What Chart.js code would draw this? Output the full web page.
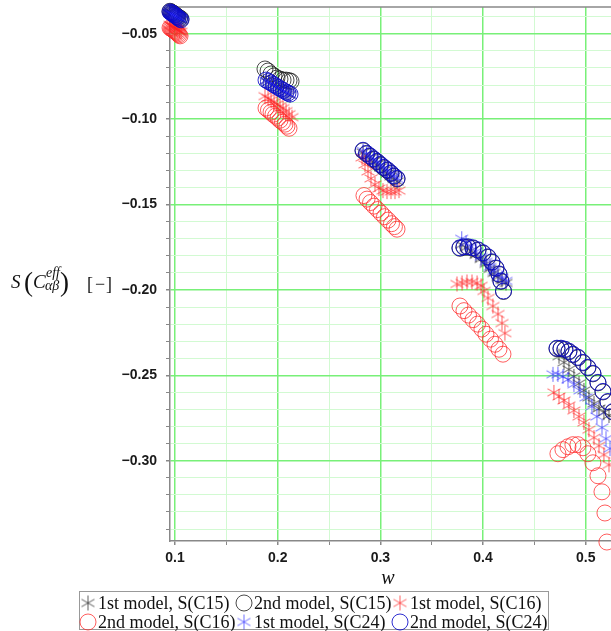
<!DOCTYPE html>
<html>
<head>
<meta charset="utf-8">
<title>S(C_eff) vs w</title>
<script src="https://cdn.jsdelivr.net/npm/chart.js@4.4.0/dist/chart.umd.min.js"></script>
<style>
  html, body { margin: 0; padding: 0; background: #fff; }
  #chart { display: block; }
</style>
</head>
<body>
<canvas id="chart" width="611" height="631"></canvas>
<script>
// Data (w, S) for each series, clusters near w = 0.1 .. 0.5

// 1st model, S(C15) - black asterisks
var wC15m1 = [0.0951, 0.0961, 0.0971, 0.0981, 0.0990, 0.1000, 0.1010, 0.1019, 0.1029, 0.1044, 0.1058,
    0.1886, 0.1910, 0.1935, 0.1959, 0.1983, 0.2008, 0.2032, 0.2056, 0.2081, 0.2100, 0.2120,
    0.2831, 0.2865, 0.2899, 0.2933, 0.2967, 0.3001, 0.3035, 0.3069, 0.3103, 0.3132, 0.3162,
    0.3792, 0.3834, 0.3882, 0.3931, 0.3980, 0.4028, 0.4067, 0.4106, 0.4145, 0.4184, 0.4223,
    0.4739, 0.4788, 0.4836, 0.4885, 0.4934, 0.4982, 0.5031, 0.5080, 0.5129, 0.5177, 0.5226];
var sC15m1 = [-0.0374, -0.0378, -0.0381, -0.0385, -0.0390, -0.0394, -0.0399, -0.0403, -0.0408, -0.0413, -0.0419,
    -0.0776, -0.0785, -0.0794, -0.0803, -0.0812, -0.0821, -0.0829, -0.0838, -0.0846, -0.0853, -0.0859,
    -0.1194, -0.1212, -0.1229, -0.1247, -0.1265, -0.1282, -0.1300, -0.1318, -0.1335, -0.1350, -0.1365,
    -0.1735, -0.1753, -0.1771, -0.1794, -0.1818, -0.1847, -0.1876, -0.1900, -0.1924, -0.1941, -0.1959,
    -0.2388, -0.2424, -0.2465, -0.2506, -0.2547, -0.2588, -0.2629, -0.2665, -0.2694, -0.2718, -0.2735];

// 2nd model, S(C15) - black circles
var wC15m2 = [0.0951, 0.0961, 0.0971, 0.0981, 0.0990, 0.1000, 0.1010, 0.1019, 0.1029, 0.1044, 0.1058,
    0.1876, 0.1906, 0.1935, 0.1964, 0.1993, 0.2022, 0.2052, 0.2081, 0.2110, 0.2130,
    0.2831, 0.2865, 0.2899, 0.2933, 0.2967, 0.3001, 0.3035, 0.3069, 0.3103, 0.3132, 0.3162,
    0.3775, 0.3814, 0.3853, 0.3902, 0.3951, 0.3999, 0.4048, 0.4087, 0.4126, 0.4155, 0.4174, 0.4199,
    0.4720, 0.4759, 0.4797, 0.4836, 0.4875, 0.4924, 0.4973, 0.5021, 0.5070, 0.5119, 0.5168, 0.5216, 0.5265];
var sC15m2 = [-0.0368, -0.0372, -0.0376, -0.0379, -0.0384, -0.0388, -0.0393, -0.0397, -0.0402, -0.0407, -0.0412,
    -0.0706, -0.0718, -0.0735, -0.0747, -0.0759, -0.0765, -0.0771, -0.0771, -0.0774, -0.0779,
    -0.1185, -0.1203, -0.1218, -0.1235, -0.1250, -0.1268, -0.1285, -0.1300, -0.1318, -0.1335, -0.1350,
    -0.1756, -0.1750, -0.1750, -0.1756, -0.1768, -0.1785, -0.1809, -0.1838, -0.1874, -0.1909, -0.1950, -0.2009,
    -0.2344, -0.2344, -0.2350, -0.2362, -0.2379, -0.2397, -0.2427, -0.2456, -0.2491, -0.2544, -0.2597, -0.2656, -0.2715];

// 1st model, S(C16) - red asterisks
var wC16m1 = [0.0951, 0.0961, 0.0971, 0.0981, 0.0990, 0.1000, 0.1010, 0.1019, 0.1029, 0.1044, 0.1058,
    0.1876, 0.1906, 0.1935, 0.1964, 0.1993, 0.2022, 0.2052, 0.2081, 0.2110, 0.2139,
    0.2821, 0.2850, 0.2879, 0.2908, 0.2947, 0.2986, 0.3025, 0.3064, 0.3103, 0.3142, 0.3181,
    0.3746, 0.3795, 0.3843, 0.3892, 0.3941, 0.3980, 0.4009, 0.4048, 0.4096, 0.4145, 0.4184, 0.4213,
    0.4690, 0.4739, 0.4788, 0.4836, 0.4885, 0.4934, 0.4982, 0.5031, 0.5080, 0.5129, 0.5177, 0.5226];
var sC16m1 = [-0.0447, -0.0451, -0.0455, -0.0459, -0.0463, -0.0467, -0.0471, -0.0475, -0.0479, -0.0484, -0.0488,
    -0.0865, -0.0876, -0.0888, -0.0900, -0.0912, -0.0924, -0.0935, -0.0953, -0.0971, -0.0988,
    -0.1224, -0.1265, -0.1306, -0.1347, -0.1382, -0.1406, -0.1418, -0.1424, -0.1424, -0.1424, -0.1418,
    -0.1965, -0.1959, -0.1953, -0.1953, -0.1959, -0.1976, -0.2006, -0.2047, -0.2094, -0.2141, -0.2194, -0.2253,
    -0.2600, -0.2624, -0.2647, -0.2676, -0.2706, -0.2741, -0.2776, -0.2818, -0.2865, -0.2912, -0.2965, -0.3024];

// 2nd model, S(C16) - red circles
var wC16m2 = [0.0951, 0.0961, 0.0971, 0.0981, 0.0990, 0.1000, 0.1010, 0.1019, 0.1029, 0.1039, 0.1049,
    0.1886, 0.1910, 0.1935, 0.1954, 0.1979, 0.2003, 0.2022, 0.2047, 0.2071, 0.2090, 0.2110,
    0.2840, 0.2870, 0.2904, 0.2938, 0.2972, 0.3006, 0.3040, 0.3074, 0.3108, 0.3137, 0.3162,
    0.3775, 0.3814, 0.3858, 0.3902, 0.3946, 0.3989, 0.4028, 0.4072, 0.4116, 0.4155, 0.4194,
    0.4729, 0.4778, 0.4827, 0.4875, 0.4924, 0.4973, 0.5021, 0.5070, 0.5119, 0.5158, 0.5187, 0.5206];
var sC16m2 = [-0.0465, -0.0468, -0.0472, -0.0476, -0.0481, -0.0485, -0.0489, -0.0494, -0.0500, -0.0506, -0.0512,
    -0.0935, -0.0947, -0.0959, -0.0971, -0.0982, -0.0994, -0.1006, -0.1018, -0.1029, -0.1041, -0.1053,
    -0.1447, -0.1468, -0.1488, -0.1509, -0.1529, -0.1550, -0.1571, -0.1591, -0.1612, -0.1629, -0.1644,
    -0.2094, -0.2121, -0.2147, -0.2174, -0.2200, -0.2229, -0.2259, -0.2288, -0.2318, -0.2347, -0.2376,
    -0.2959, -0.2935, -0.2918, -0.2906, -0.2906, -0.2924, -0.2959, -0.3012, -0.3088, -0.3182, -0.3306, -0.3476];

// 1st model, S(C24) - blue asterisks
var wC24m1 = [0.0951, 0.0961, 0.0971, 0.0981, 0.0990, 0.1000, 0.1010, 0.1019, 0.1029, 0.1044, 0.1058,
    0.1886, 0.1910, 0.1935, 0.1959, 0.1983, 0.2008, 0.2032, 0.2056, 0.2081, 0.2100, 0.2120,
    0.2831, 0.2865, 0.2899, 0.2933, 0.2967, 0.3001, 0.3035, 0.3069, 0.3103, 0.3132, 0.3162,
    0.3792, 0.3834, 0.3882, 0.3931, 0.3980, 0.4028, 0.4067, 0.4106, 0.4145, 0.4184, 0.4223,
    0.4681, 0.4729, 0.4778, 0.4827, 0.4885, 0.4944, 0.5002, 0.5060, 0.5109, 0.5158, 0.5197, 0.5236];
var sC24m1 = [-0.0378, -0.0381, -0.0385, -0.0388, -0.0392, -0.0395, -0.0399, -0.0402, -0.0406, -0.0410, -0.0414,
    -0.0774, -0.0782, -0.0791, -0.0800, -0.0809, -0.0818, -0.0826, -0.0835, -0.0844, -0.0850, -0.0856,
    -0.1185, -0.1203, -0.1218, -0.1235, -0.1250, -0.1268, -0.1285, -0.1300, -0.1318, -0.1335, -0.1350,
    -0.1700, -0.1724, -0.1747, -0.1776, -0.1806, -0.1835, -0.1865, -0.1888, -0.1912, -0.1929, -0.1947,
    -0.2494, -0.2494, -0.2506, -0.2524, -0.2553, -0.2588, -0.2629, -0.2682, -0.2741, -0.2806, -0.2871, -0.2929];

// 2nd model, S(C24) - blue circles
var wC24m2 = [0.0951, 0.0961, 0.0971, 0.0981, 0.0990, 0.1000, 0.1010, 0.1019, 0.1029, 0.1044, 0.1058,
    0.1886, 0.1910, 0.1935, 0.1959, 0.1983, 0.2008, 0.2032, 0.2056, 0.2081, 0.2100, 0.2120,
    0.2831, 0.2865, 0.2899, 0.2933, 0.2967, 0.3001, 0.3035, 0.3069, 0.3103, 0.3132, 0.3162,
    0.3775, 0.3814, 0.3853, 0.3902, 0.3951, 0.3999, 0.4048, 0.4087, 0.4126, 0.4155, 0.4174, 0.4199,
    0.4720, 0.4759, 0.4797, 0.4836, 0.4875, 0.4924, 0.4973, 0.5021, 0.5070, 0.5119, 0.5168, 0.5216, 0.5265];
var sC24m2 = [-0.0371, -0.0376, -0.0379, -0.0382, -0.0388, -0.0391, -0.0397, -0.0400, -0.0406, -0.0412, -0.0418,
    -0.0771, -0.0779, -0.0788, -0.0797, -0.0806, -0.0815, -0.0824, -0.0832, -0.0841, -0.0847, -0.0853,
    -0.1182, -0.1200, -0.1215, -0.1232, -0.1247, -0.1265, -0.1282, -0.1297, -0.1315, -0.1332, -0.1347,
    -0.1753, -0.1747, -0.1747, -0.1753, -0.1765, -0.1782, -0.1806, -0.1835, -0.1871, -0.1906, -0.1947, -0.2006,
    -0.2341, -0.2341, -0.2347, -0.2359, -0.2376, -0.2394, -0.2424, -0.2453, -0.2488, -0.2541, -0.2594, -0.2653, -0.2712];

var seriesLabels = ["1st model, S(C15)", "2nd model, S(C15)", "1st model, S(C16)",
    "2nd model, S(C16)", "1st model, S(C24)", "2nd model, S(C24)"];

// axis range and tick steps
var xMin = 0.0951, xMax = 0.5246, xStep = 0.05;
var yMin = -0.347, yMax = -0.0343, yStep = 0.01;


// Colours
var colBlackStar = "rgba(40,40,40,0.75)";
var colBlackCirc = "rgba(30,30,30,0.8)";
var colRedStar = "rgba(255,30,30,0.7)";
var colRedCirc = "rgba(255,40,40,0.75)";
var colBlueStar = "rgba(50,50,255,0.7)";
var colBlueCirc = "rgba(10,10,200,0.85)";
var gridMajor = "rgb(120,240,120)";
var gridMinor = "rgb(210,250,210)";
var axisGrey = "#888";


// Asterisk symbol as a small canvas
function makeStar(color) {
    var c = document.createElement("canvas");
    c.width = 17;
    c.height = 17;
    var g = c.getContext("2d");
    g.strokeStyle = color;
    g.lineWidth = 1;
    g.beginPath();
    for (var k = 0; k < 3; k++) {
        var a = Math.PI / 2 + k * Math.PI / 3;
        g.moveTo(8.5 + 7.5 * Math.cos(a), 8.5 - 7.5 * Math.sin(a));
        g.lineTo(8.5 - 7.5 * Math.cos(a), 8.5 + 7.5 * Math.sin(a));
    }
    g.stroke();
    return c;
}

var starBlack = makeStar(colBlackStar);
var starRed = makeStar(colRedStar);
var starBlue = makeStar(colBlueStar);

function toPoints(ws, ss) {
    var pts = [];
    for (var i = 0; i < ws.length; i++) {
        pts.push({x: ws[i], y: ss[i]});
    }
    return pts;
}

function starSet(label, ws, ss, img, order) {
    return {
        label: label,
        data: toPoints(ws, ss),
        pointStyle: img,
        pointRadius: 8,
        order: order,
        clip: false
    };
}

function circleSet(label, ws, ss, color, order) {
    return {
        label: label,
        data: toPoints(ws, ss),
        pointStyle: "circle",
        pointRadius: 8,
        borderColor: color,
        backgroundColor: "rgba(0,0,0,0)",
        pointBorderWidth: 1,
        order: order,
        clip: false
    };
}

function isMajorX(v) { return Math.round(v * 100) % 10 === 0; }
function isMajorY(v) { return Math.round(v * 100) % 5 === 0; }


// Top frame line under the points
var framePlugin = {
    id: "frame",
    beforeDatasetsDraw: function (chart) {
        var ctx = chart.ctx, a = chart.chartArea;
        ctx.save();
        ctx.strokeStyle = axisGrey;
        ctx.lineWidth = 1.5;
        ctx.beginPath();
        ctx.moveTo(a.left, a.top);
        ctx.lineTo(a.right, a.top);
        ctx.stroke();
        ctx.restore();
    }
};


// Axis titles and the boxed legend
var textPlugin = {
    id: "texts",
    afterDraw: function (chart) {
        var ctx = chart.ctx;
        ctx.save();
        ctx.fillStyle = "#111";
        ctx.textBaseline = "alphabetic";
        ctx.textAlign = "left";

        // y title: S( C^eff_ab ) [-]
        ctx.font = "italic 19px 'Liberation Serif'";
        ctx.fillText("S", 11, 288);
        ctx.font = "27px 'Liberation Serif'";
        ctx.fillText("(", 24, 291);
        ctx.font = "italic 19px 'Liberation Serif'";
        ctx.fillText("C", 33, 288);
        ctx.font = "italic 14px 'Liberation Serif'";
        ctx.fillText("eff", 46, 277);
        ctx.fillText("\u03b1\u03b2", 45, 290);
        ctx.font = "27px 'Liberation Serif'";
        ctx.fillText(")", 60, 291);
        ctx.font = "18px 'Liberation Serif'";
        ctx.fillText("[", 87, 290);
        ctx.fillText("\u2212", 95, 290);
        ctx.fillText("]", 106, 290);

        // x title
        ctx.font = "italic 20px 'Liberation Serif'";
        ctx.textAlign = "center";
        ctx.fillText("w", 388, 584);

        // legend box
        ctx.fillStyle = "#fff";
        ctx.fillRect(79.5, 591.5, 469, 38);
        ctx.strokeStyle = "#999";
        ctx.lineWidth = 1;
        ctx.strokeRect(79.5, 591.5, 469, 38);

        var syms = [
            {img: starBlack}, {col: colBlackCirc}, {img: starRed},
            {col: colRedCirc}, {img: starBlue}, {col: colBlueCirc}
        ];
        var colX = [88, 244, 400];
        var rowY = [603, 622];
        ctx.font = "18px 'Liberation Serif'";
        ctx.textAlign = "left";
        ctx.textBaseline = "middle";
        for (var i = 0; i < 6; i++) {
            var cx = colX[i % 3], cy = rowY[Math.floor(i / 3)];
            var s = syms[i];
            if (s.img) {
                ctx.drawImage(s.img, cx - 8.5, cy - 8.5);
            } else {
                ctx.strokeStyle = s.col;
                ctx.beginPath();
                ctx.arc(cx, cy, 8, 0, Math.PI * 2);
                ctx.stroke();
            }
            ctx.fillStyle = "#111";
            ctx.fillText(seriesLabels[i], cx + 10, cy + 1);
        }
        ctx.restore();
    }
};


var tickFont = {family: "'Liberation Sans'", size: 14, weight: "bold", lineHeight: 1};

var ctx = document.getElementById("chart").getContext("2d");
var myChart = new Chart(ctx, {
    type: "scatter",
    data: {
        datasets: [
            starSet(seriesLabels[0], wC15m1, sC15m1, starBlack, 5),
            circleSet(seriesLabels[1], wC15m2, sC15m2, colBlackCirc, 4),
            starSet(seriesLabels[2], wC16m1, sC16m1, starRed, 3),
            circleSet(seriesLabels[3], wC16m2, sC16m2, colRedCirc, 2),
            starSet(seriesLabels[4], wC24m1, sC24m1, starBlue, 1),
            circleSet(seriesLabels[5], wC24m2, sC24m2, colBlueCirc, 0)
        ]
    },
    options: {
        responsive: false,
        animation: false,
        events: [],
        layout: {autoPadding: false, padding: {top: 7, right: 0, left: 0, bottom: 0}},
        plugins: {
            legend: {display: false},
            tooltip: {enabled: false}
        },
        scales: {
            x: {
                type: "linear",
                min: xMin,
                max: xMax,
                afterFit: function (scale) {
                    scale.height = 90;
                    scale.paddingLeft = 0;
                    scale.paddingRight = 0;
                },
                ticks: {
                    stepSize: xStep,
                    includeBounds: false,
                    autoSkip: false,
                    maxRotation: 0,
                    padding: 6,
                    color: "#1a1a1a",
                    font: tickFont,
                    callback: function (v) { return isMajorX(v) ? (Math.round(v * 10) / 10).toFixed(1) : ""; }
                },
                grid: {
                    color: function (c) { return isMajorX(c.tick.value) ? gridMajor : gridMinor; },
                    lineWidth: function (c) { return isMajorX(c.tick.value) ? 1.5 : 1; },
                    tickColor: axisGrey,
                    tickLength: 4
                },
                border: {color: axisGrey, width: 1.5}
            },
            y: {
                type: "linear",
                min: yMin,
                max: yMax,
                afterFit: function (scale) {
                    scale.width = 170;
                    scale.paddingTop = 0;
                    scale.paddingBottom = 0;
                },
                ticks: {
                    stepSize: yStep,
                    includeBounds: false,
                    autoSkip: false,
                    padding: 9,
                    color: "#1a1a1a",
                    font: tickFont,
                    callback: function (v) {
                        if (!isMajorY(v)) return "";
                        return "\u2212" + Math.abs(Math.round(v * 100) / 100).toFixed(2);
                    }
                },
                grid: {
                    color: function (c) { return isMajorY(c.tick.value) ? gridMajor : gridMinor; },
                    lineWidth: function (c) { return isMajorY(c.tick.value) ? 1.5 : 1; },
                    tickColor: axisGrey,
                    tickLength: 4
                },
                border: {color: axisGrey, width: 1.5}
            }
        }
    },
    plugins: [framePlugin, textPlugin]
});
</script>
</body>
</html>
